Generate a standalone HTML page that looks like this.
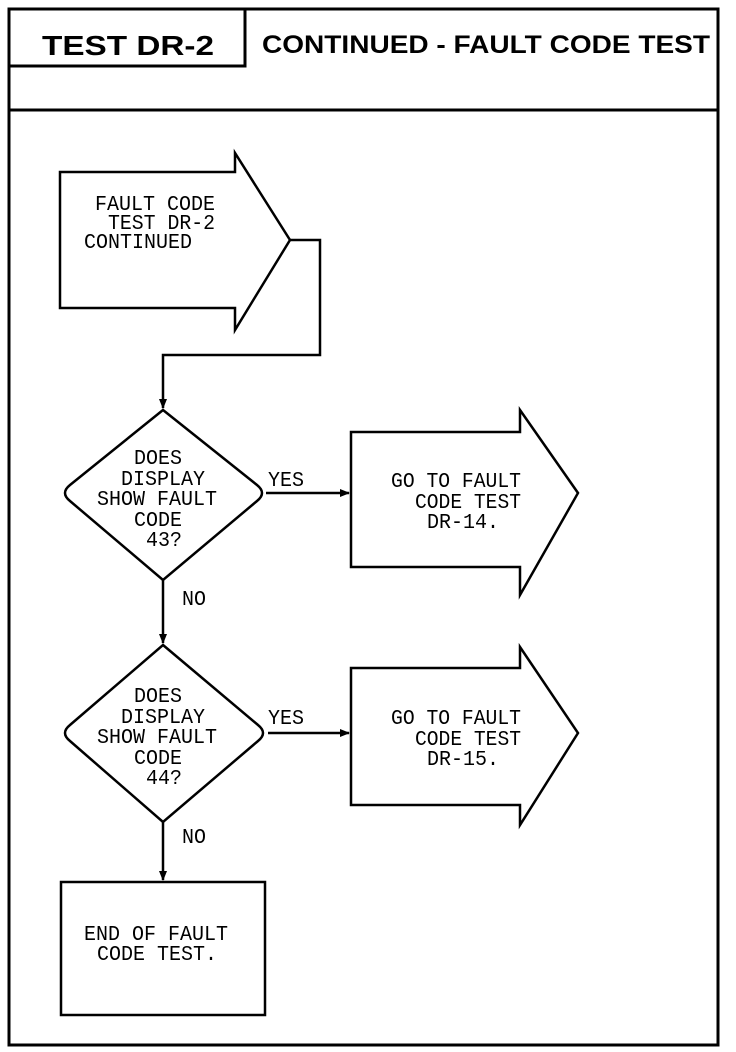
<!DOCTYPE html>
<html><head><meta charset="utf-8"><style>
html,body{margin:0;padding:0;background:#fff;}
svg{display:block;}
.t{font-family:"Liberation Mono",monospace;font-size:21px;fill:#000;}
.h{font-family:"Liberation Sans",sans-serif;font-weight:bold;fill:#000;}
</style></head><body>
<svg width="736" height="1052" viewBox="0 0 736 1052" xmlns="http://www.w3.org/2000/svg">
<defs><marker id="a" markerWidth="10" markerHeight="8" refX="9" refY="4" orient="auto" markerUnits="userSpaceOnUse"><path d="M0,0 L10,4 L0,8 Z" fill="#000"/></marker></defs>
<g fill="none" stroke="#000" stroke-width="3">
<rect x="9" y="9" width="709" height="1036"/>
<line x1="9" y1="110" x2="718" y2="110"/>
<polyline points="9,66 245,66 245,9"/>
</g>
<text class="h" x="42" y="55" font-size="28" textLength="172" lengthAdjust="spacingAndGlyphs">TEST DR-2</text>
<text class="h" x="262" y="53" font-size="25" textLength="448" lengthAdjust="spacingAndGlyphs">CONTINUED - FAULT CODE TEST</text>
<g fill="none" stroke="#000" stroke-width="2.5" stroke-linejoin="miter">
<polygon points="60,172 235,172 235,153 290,240 235,330 235,308 60,308"/>
<polyline points="290,240 320,240 320,355 163,355 163,408" marker-end="url(#a)"/>
<path d="M163,410 L257,485 Q267,493 257,501 L163,580 L70,501 Q60,493 70,485 Z"/>
<line x1="266" y1="493" x2="349" y2="493" marker-end="url(#a)"/>
<polygon points="351,432 520,432 520,410 578,493 520,595 520,567 351,567"/>
<line x1="163" y1="580" x2="163" y2="643" marker-end="url(#a)"/>
<path d="M163,645 L258,725 Q268,733 258,741 L163,822 L70,741 Q60,733 70,725 Z"/>
<line x1="268" y1="733" x2="349" y2="733" marker-end="url(#a)"/>
<polygon points="351,668 520,668 520,647 578,733 520,825 520,805 351,805"/>
<line x1="163" y1="822" x2="163" y2="880" marker-end="url(#a)"/>
<rect x="61" y="882" width="204" height="133"/>
</g>
<g class="t">
<text x="95" y="210" textLength="120" lengthAdjust="spacingAndGlyphs">FAULT CODE</text>
<text x="108" y="229" textLength="107" lengthAdjust="spacingAndGlyphs">TEST DR-2</text>
<text x="84" y="248" textLength="108" lengthAdjust="spacingAndGlyphs">CONTINUED</text>

<text x="134" y="464" textLength="48" lengthAdjust="spacingAndGlyphs">DOES</text>
<text x="121" y="485" textLength="84" lengthAdjust="spacingAndGlyphs">DISPLAY</text>
<text x="97" y="505" textLength="120" lengthAdjust="spacingAndGlyphs">SHOW FAULT</text>
<text x="134" y="526" textLength="48" lengthAdjust="spacingAndGlyphs">CODE</text>
<text x="146" y="546" textLength="36" lengthAdjust="spacingAndGlyphs">43?</text>
<text x="268" y="486" textLength="36" lengthAdjust="spacingAndGlyphs">YES</text>
<text x="182" y="605" textLength="24" lengthAdjust="spacingAndGlyphs">NO</text>

<text x="391" y="487" textLength="130" lengthAdjust="spacingAndGlyphs">GO TO FAULT</text>
<text x="415" y="508" textLength="106" lengthAdjust="spacingAndGlyphs">CODE TEST</text>
<text x="427" y="528" textLength="72" lengthAdjust="spacingAndGlyphs">DR-14.</text>

<text x="134" y="702" textLength="48" lengthAdjust="spacingAndGlyphs">DOES</text>
<text x="121" y="723" textLength="84" lengthAdjust="spacingAndGlyphs">DISPLAY</text>
<text x="97" y="743" textLength="120" lengthAdjust="spacingAndGlyphs">SHOW FAULT</text>
<text x="134" y="764" textLength="48" lengthAdjust="spacingAndGlyphs">CODE</text>
<text x="146" y="784" textLength="36" lengthAdjust="spacingAndGlyphs">44?</text>
<text x="268" y="724" textLength="36" lengthAdjust="spacingAndGlyphs">YES</text>
<text x="182" y="843" textLength="24" lengthAdjust="spacingAndGlyphs">NO</text>

<text x="391" y="724" textLength="130" lengthAdjust="spacingAndGlyphs">GO TO FAULT</text>
<text x="415" y="745" textLength="106" lengthAdjust="spacingAndGlyphs">CODE TEST</text>
<text x="427" y="765" textLength="72" lengthAdjust="spacingAndGlyphs">DR-15.</text>

<text x="84" y="940" textLength="144" lengthAdjust="spacingAndGlyphs">END OF FAULT</text>
<text x="97" y="960" textLength="120" lengthAdjust="spacingAndGlyphs">CODE TEST.</text>
</g>
</svg>
</body></html>
